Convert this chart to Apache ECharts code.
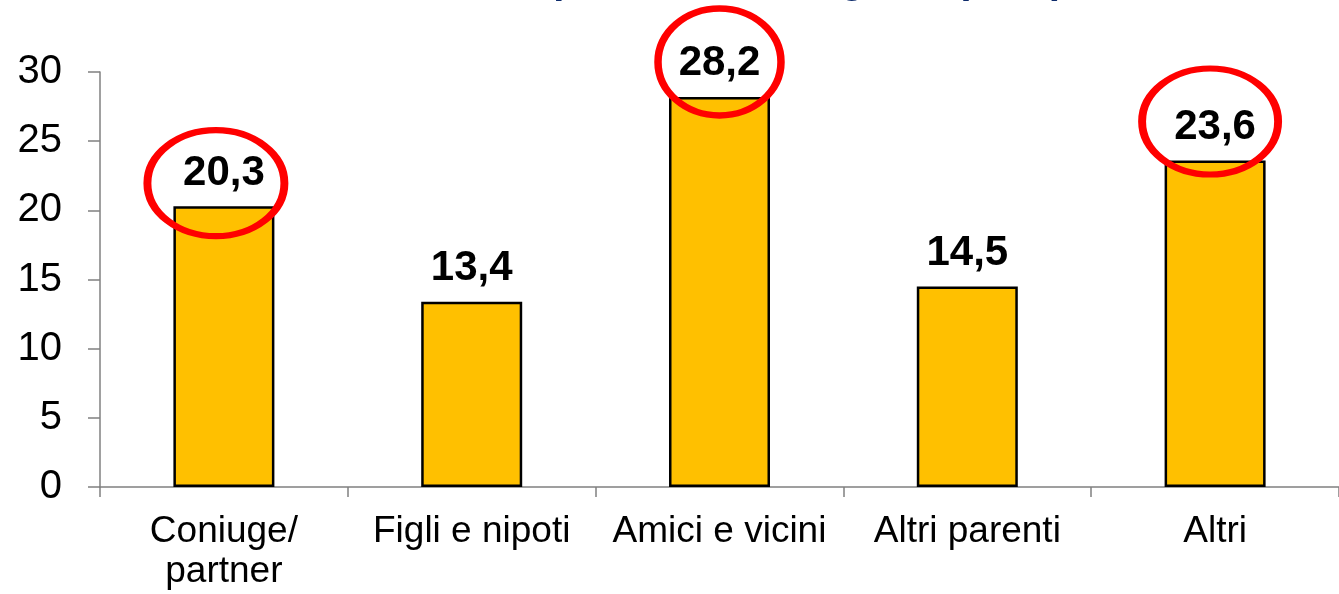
<!DOCTYPE html>
<html>
<head>
<meta charset="utf-8">
<script src="https://cdn.jsdelivr.net/npm/echarts@6/dist/echarts.min.js"></script>
<style>
  html, body { margin: 0; padding: 0; background: #fff; }
  #chart { width: 1339px; height: 594px; }
</style>
</head>
<body>
<div id="chart"></div>
<script>
// categorie e valori (%)
const categories = ['Coniuge/\npartner', 'Figli e nipoti', 'Amici e vicini', 'Altri parenti', 'Altri'];
const values = [20.3, 13.4, 28.2, 14.5, 23.6];
const yTicks = { min: 0, max: 30, step: 5 };
// barre evidenziate col cerchio rosso (indice categoria)
const highlighted = [0, 2, 4];

const titleText = 'Aiuti dati per classe di legame (in %)';
const font = 'Arial, "Liberation Sans", sans-serif';

const chart = echarts.init(document.getElementById('chart'));

// offset in pixel del cerchio rispetto alla cima della barra
const ringOffsets = [[-8, -23], [0, -35], [-5, -39]];
const ringSizes = [[137, 106], [123, 107], [136, 106]];

const ringData = highlighted.map((idx, i) => ({
  value: [idx, values[idx]],
  symbolOffset: ringOffsets[i],
  symbolSize: ringSizes[i]
}));

chart.setOption({
  animation: false,
  backgroundColor: '#fff',
  graphic: [{
    type: 'text',
    left: 371,
    top: -38,
    style: {
      text: titleText,
      fill: '#0D2B6B',
      font: 'bold 40px ' + font
    }
  }],
  grid: { left: 100, right: -6, top: 72, bottom: 107 },
  xAxis: {
    type: 'category',
    data: categories,
    boundaryGap: true,
    axisLine: { lineStyle: { color: '#808080', width: 1.5 } },
    axisTick: { show: true, length: 10, lineStyle: { color: '#808080', width: 1.5 } },
    axisLabel: {
      color: '#000',
      fontSize: 37,
      fontFamily: font,
      lineHeight: 40,
      margin: 25,
      interval: 0
    }
  },
  yAxis: {
    type: 'value',
    min: yTicks.min,
    max: yTicks.max,
    interval: yTicks.step,
    splitLine: { show: false },
    axisLine: { show: true, lineStyle: { color: '#808080', width: 1.5 } },
    axisTick: { show: true, length: 12, lineStyle: { color: '#808080', width: 1.5 } },
    axisLabel: {
      color: '#000',
      fontSize: 40,
      fontFamily: font,
      margin: 38
    }
  },
  series: [{
    type: 'bar',
    data: values,
    barWidth: 101,
    itemStyle: { color: '#FFC000', borderColor: '#000', borderWidth: 2.5 },
    label: {
      show: true,
      position: 'top',
      distance: 12,
      color: '#000',
      fontSize: 42,
      fontWeight: 'bold',
      fontFamily: font,
      formatter: p => String(p.value).replace('.', ',')
    }
  }, {
    type: 'scatter',
    data: ringData,
    symbol: 'circle',
    clip: false,
    z: 5,
    itemStyle: { color: 'rgba(0,0,0,0)', borderColor: '#FF0000', borderWidth: 7, opacity: 1 },
    emphasis: { disabled: true }
  }]
});
</script>
</body>
</html>
